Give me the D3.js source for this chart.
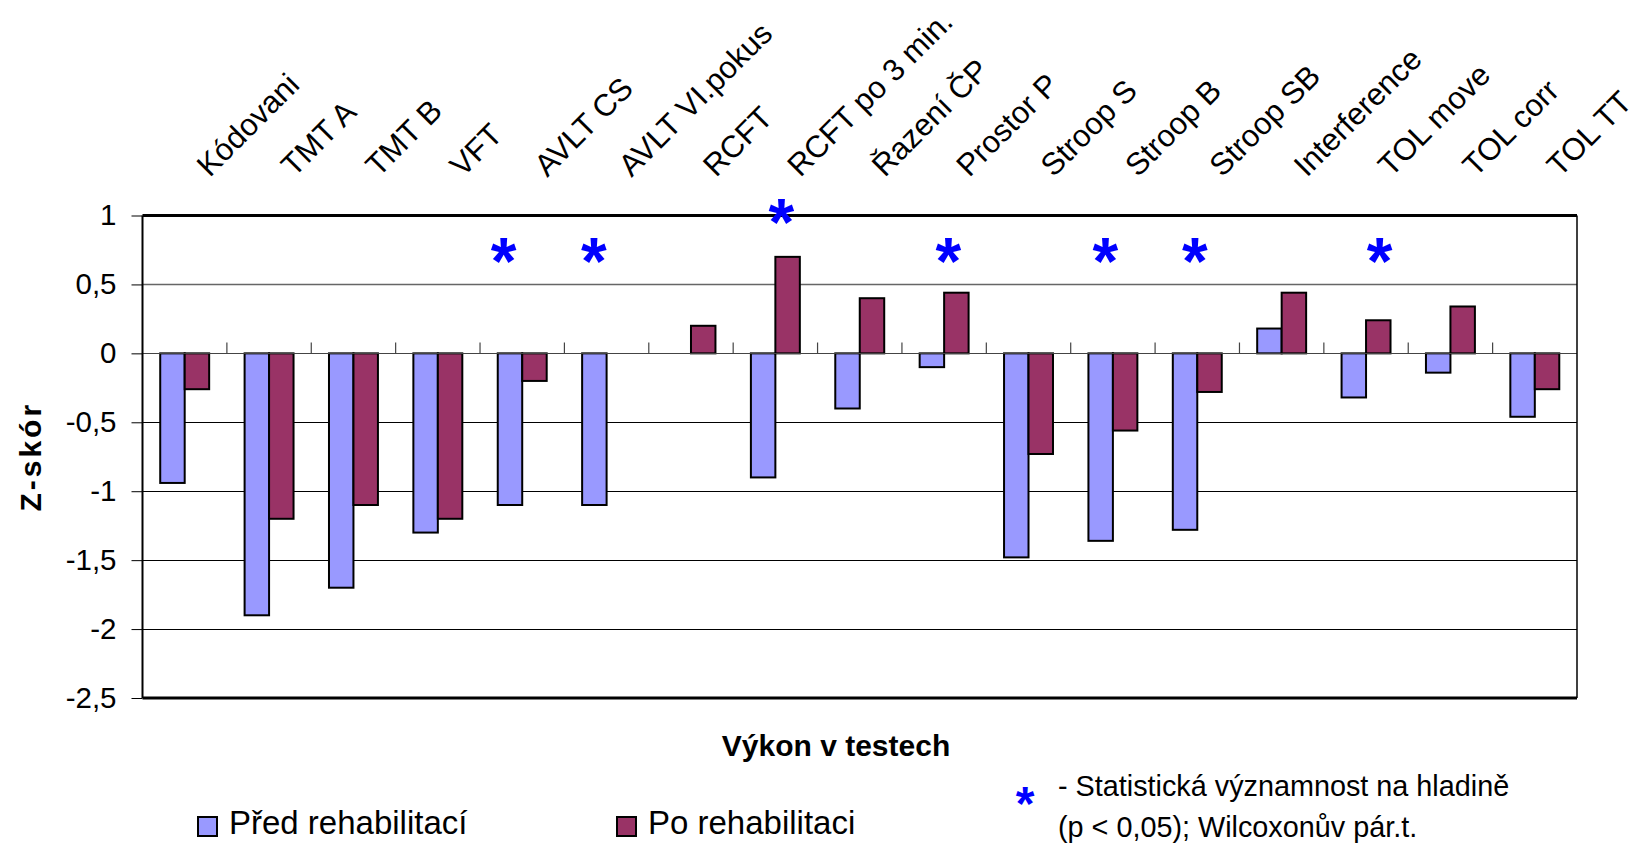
<!DOCTYPE html>
<html><head><meta charset="utf-8">
<script src="https://cdn.jsdelivr.net/npm/d3@7"></script>
<style>
body{margin:0;background:#fff}
svg{display:block}
text{font-family:"Liberation Sans",Arial,sans-serif}
</style>
</head><body>
<svg id="chart" width="1640" height="845"></svg>
<script>
const categories = ["Kódovani","TMT A","TMT B","VFT","AVLT CS","AVLT VI.pokus","RCFT","RCFT po 3 min.","Řazení ČP","Prostor P","Stroop S","Stroop B","Stroop SB","Interference","TOL move","TOL corr","TOL TT"];
const preValues  = [-0.94,-1.9,-1.7,-1.3,-1.1,-1.1,null,-0.9,-0.4,-0.1,-1.48,-1.36,-1.28,0.18,-0.32,-0.14,-0.46];
const postValues = [-0.26,-1.2,-1.1,-1.2,-0.2,null,0.2,0.7,0.4,0.44,-0.73,-0.56,-0.28,0.44,0.24,0.34,-0.26];
const seriesNames = ["Před rehabilitací","Po rehabilitaci"];
const seriesColors = ["#9999FF","#993366"];
const yTicks = [1,0.5,0,-0.5,-1,-1.5,-2,-2.5];
const starCategories = ["AVLT CS","AVLT VI.pokus","RCFT po 3 min.","Prostor P","Stroop B","Stroop SB","TOL move"];
const starLevels = [0.74,0.74,1.02,0.74,0.74,0.74,0.74];
const starShifts = [-0.22,-0.15,0.07,0.05,-0.09,-0.03,0.16];
const yTitle = "Z-skór";
const xTitle = "Výkon v testech";
const noteLines = ["- Statistická významnost na hladině","(p < 0,05); Wilcoxonův pár.t."];

const svg = d3.select("#chart");
const L = 142.5, R = 1577, T = 215.5, B = 698;
const fmt = d => String(d).replace(".", ",");

const x0 = d3.scaleBand().domain(categories).range([L, R]).paddingInner(0.42).paddingOuter(0.21);
const x1 = d3.scaleBand().domain([0,1]).range([0, x0.bandwidth()]);
const y = d3.scaleLinear().domain([-2.5, 1]).range([B, T]);

// gridlines
svg.append("g").selectAll("line").data(yTicks.filter(v => v !== 1 && v !== -2.5 && v !== 0))
  .join("line")
  .attr("x1", L).attr("x2", R)
  .attr("y1", d => Math.round(y(d)) + 0.5).attr("y2", d => Math.round(y(d)) + 0.5)
  .attr("stroke", d => d === 0.5 ? "#666" : "#000").attr("stroke-width", d => d === 0.5 ? 1.5 : 1);

// y axis
const yAxis = svg.append("g").attr("transform", `translate(${L},0)`)
  .call(d3.axisLeft(y).tickValues(yTicks).tickSize(11).tickPadding(15).tickFormat(fmt));
yAxis.select(".domain").remove();
yAxis.selectAll(".tick line").attr("stroke", "#000");
yAxis.selectAll(".tick text").attr("font-size", 29.5).attr("fill", "#000")
  .style("font-family", '"Liberation Sans",Arial,sans-serif');

// bars
const rows = categories.map((c, i) => ({c, vals: [preValues[i], postValues[i]]}));
const groups = svg.append("g").selectAll("g").data(rows).join("g")
  .attr("transform", d => `translate(${x0(d.c)},0)`);
groups.selectAll("rect")
  .data(d => d.vals.map((v, k) => ({v, k})).filter(e => e.v !== null))
  .join("rect")
  .attr("x", e => x1(e.k))
  .attr("width", x1.bandwidth())
  .attr("y", e => y(Math.max(0, e.v)))
  .attr("height", e => Math.abs(y(e.v) - y(0)))
  .attr("fill", e => seriesColors[e.k])
  .attr("stroke", "#000").attr("stroke-width", 2);

// zero axis with category ticks
const zy = Math.round(y(0)) + 0.5;
svg.append("line").attr("x1", L).attr("x2", R).attr("y1", zy).attr("y2", zy)
  .attr("stroke", "#444").attr("stroke-width", 1.2);
svg.append("g").selectAll("line").data(categories.slice(0, -1)).join("line")
  .attr("x1", d => x0(d) + x0.bandwidth() + (x0.step() - x0.bandwidth()) / 2)
  .attr("x2", d => x0(d) + x0.bandwidth() + (x0.step() - x0.bandwidth()) / 2)
  .attr("y1", zy).attr("y2", zy - 11)
  .attr("stroke", "#444").attr("stroke-width", 1.2);

// frame
svg.append("line").attr("x1", L).attr("x2", R).attr("y1", T).attr("y2", T).attr("stroke", "#000").attr("stroke-width", 3);
svg.append("line").attr("x1", L).attr("x2", R).attr("y1", B).attr("y2", B).attr("stroke", "#000").attr("stroke-width", 3);
svg.append("line").attr("x1", L).attr("x2", L).attr("y1", T).attr("y2", B).attr("stroke", "#000").attr("stroke-width", 2);
svg.append("line").attr("x1", R).attr("x2", R).attr("y1", T).attr("y2", B).attr("stroke", "#000").attr("stroke-width", 1.5);

// category labels (rotated, on top)
svg.append("g").selectAll("text").data(categories).join("text")
  .attr("transform", d => `translate(${x0(d) + x0.bandwidth()/2 + 25},178) rotate(-45)`)
  .attr("font-size", 31).attr("fill", "#000")
  .text(d => d);

// significance stars
const starSize = 66;
svg.append("g").selectAll("text").data(starCategories.map((c, i) => ({c, v: starLevels[i], s: starShifts[i]})))
  .join("text")
  .attr("x", d => x0(d.c) + x0.bandwidth()/2 + d.s * x0.step())
  .attr("y", d => y(d.v) + starSize * 0.49)
  .attr("text-anchor", "middle")
  .attr("font-size", starSize).attr("font-weight", "bold").attr("fill", "#0000FF")
  .text("*");

// axis titles
svg.append("text").attr("transform", `translate(41,${(T + B) / 2}) rotate(-90)`)
  .attr("text-anchor", "middle").attr("font-size", 30).attr("font-weight", "bold")
  .attr("letter-spacing", 3).text(yTitle);
svg.append("text").attr("x", 836).attr("y", 756).attr("text-anchor", "middle")
  .attr("font-size", 30).attr("font-weight", "bold").text(xTitle);

// legend
const legX = [198, 617];
const leg = svg.append("g").selectAll("g").data(seriesNames).join("g")
  .attr("transform", (d, i) => `translate(${legX[i]},817)`);
leg.append("rect").attr("width", 19).attr("height", 19)
  .attr("fill", (d, i) => seriesColors[i]).attr("stroke", "#000").attr("stroke-width", 2);
leg.append("text").attr("x", 31).attr("y", 17).attr("font-size", 33).text(d => d);

// note
svg.append("text").attr("x", 1025).attr("y", 799 + 48 * 0.435).attr("text-anchor", "middle")
  .attr("font-size", 48).attr("font-weight", "bold").attr("fill", "#0000FF").text("*");
svg.append("g").attr("transform", "translate(1058,0) scale(0.96,1)")
  .selectAll("text").data(noteLines).join("text")
  .attr("x", 0).attr("y", (d, i) => 796 + i * 41)
  .attr("font-size", 30).text(d => d);
</script>
</body></html>
